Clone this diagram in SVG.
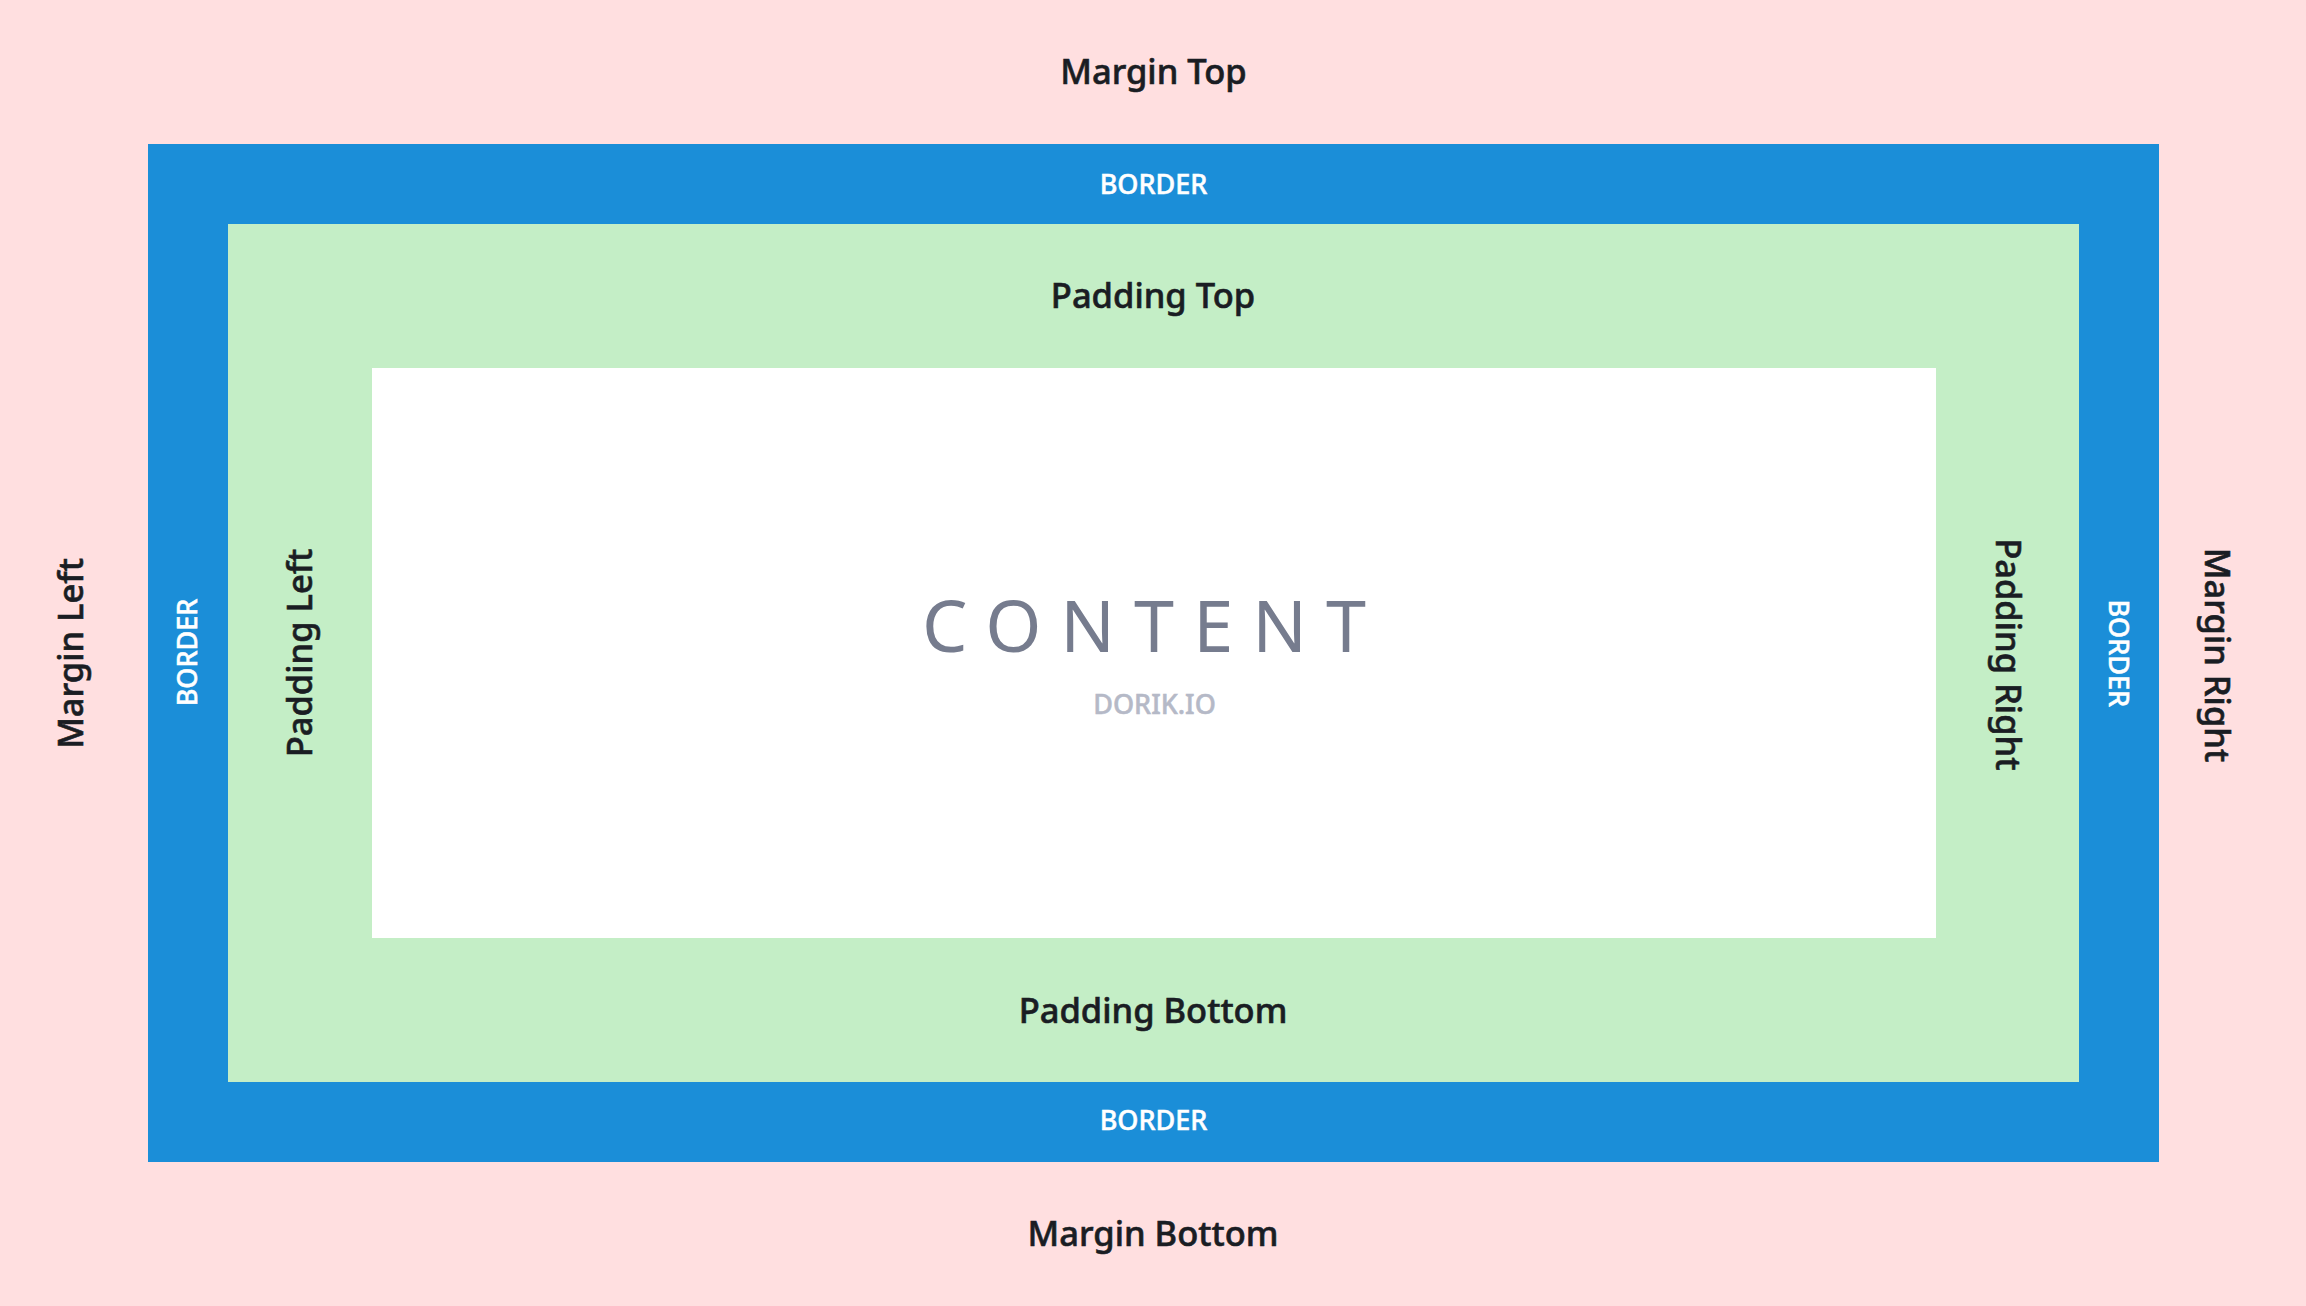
<svg xmlns="http://www.w3.org/2000/svg" width="2306" height="1306" viewBox="0 0 2306 1306">
  <style>
    .lbl { font-family: "Noto Sans", "Open Sans", sans-serif; font-weight: 500; font-size: 34.5px; fill: #1a1d23; stroke: #1a1d23; stroke-width: 0.6px; text-anchor: middle; }
    .brd { font-family: "Noto Sans", "Open Sans", sans-serif; font-weight: 500; font-size: 27px; fill: #ffffff; stroke: #ffffff; stroke-width: 0.5px; text-anchor: middle; }
    .content { font-family: "Noto Sans", "Open Sans", sans-serif; font-weight: 400; font-size: 72px; fill: #767c8e; text-anchor: middle; letter-spacing: 19px; }
    .brand { font-family: "Noto Sans", "Open Sans", sans-serif; font-weight: 500; font-size: 27px; fill: #b5b9c7; stroke: #b5b9c7; stroke-width: 0.5px; text-anchor: middle; }
  </style>

  <!-- margin area -->
  <g id="margin">
    <rect x="0" y="0" width="2306" height="1306" fill="#ffdfe0"/>
    <text class="lbl" x="1153.5" y="83.5">Margin Top</text>
    <text class="lbl" x="1153" y="1246">Margin Bottom</text>
    <text class="lbl" transform="translate(82.5,653.5) rotate(-90)">Margin Left</text>
    <text class="lbl" transform="translate(2205,655) rotate(90)">Margin Right</text>
  </g>

  <!-- border ring -->
  <g id="border">
    <rect x="148" y="144" width="2011" height="1018" fill="#1b8ed8"/>
    <text class="brd" x="1153.5" y="193.5">BORDER</text>
    <text class="brd" x="1153.5" y="1130">BORDER</text>
    <text class="brd" transform="translate(196.5,652.5) rotate(-90)">BORDER</text>
    <text class="brd" transform="translate(2108.5,653.3) rotate(90)">BORDER</text>
  </g>

  <!-- padding ring -->
  <g id="padding">
    <rect x="228" y="224" width="1851" height="858" fill="#c4eec6"/>
    <text class="lbl" x="1153" y="307.5">Padding Top</text>
    <text class="lbl" x="1153" y="1022.5">Padding Bottom</text>
    <text class="lbl" transform="translate(312.3,653) rotate(-90)">Padding Left</text>
    <text class="lbl" transform="translate(1996,654.3) rotate(90)">Padding Right</text>
  </g>

  <!-- content box -->
  <g id="content">
    <rect x="372" y="368" width="1564" height="570" fill="#ffffff"/>
    <text class="content" x="1153.5" y="652">CONTENT</text>
    <text class="brand" x="1154.5" y="714">DORIK.IO</text>
  </g>
</svg>
